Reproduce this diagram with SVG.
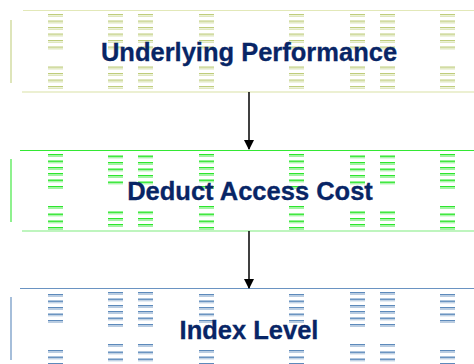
<svg xmlns="http://www.w3.org/2000/svg" xmlns:xlink="http://www.w3.org/1999/xlink" width="474" height="364" viewBox="0 0 474 364">
<style>
.t{font-family:"Liberation Sans",Arial,sans-serif;font-weight:bold;font-size:25.5px;fill:#082566;stroke:#082566;stroke-width:0.3;text-anchor:middle}
.y1{fill:#bfcd7c}.y2{fill:#dfe7bd}
.g1{fill:#2de62d}.g2{fill:#8cef8c}
.b1{fill:#5d8abb}.b2{fill:#a8c0da}
</style>
<defs>
<g id="rY"><rect x="0" y="0" width="15" height="1.2" class="y1"/><rect x="0" y="1.7" width="15" height="1.3" class="y2"/></g>
<g id="rG"><rect x="0" y="0" width="15" height="1.4" class="g1"/><rect x="0" y="1.8" width="15" height="1" class="g2"/></g>
<g id="rB"><rect x="0" y="0" width="15" height="1.4" class="b1"/><rect x="0" y="1.8" width="15" height="1" class="b2"/></g>
<g id="c1">
<use xlink:href="#rY" y="14"/><use xlink:href="#rY" y="20.5"/><use xlink:href="#rY" y="27"/><use xlink:href="#rY" y="33.5"/><use xlink:href="#rY" y="40"/><use xlink:href="#rY" y="46.5"/>
<use xlink:href="#rY" y="66.5"/><use xlink:href="#rY" y="73"/><use xlink:href="#rY" y="79.5"/><use xlink:href="#rY" y="86"/>
</g>
<g id="c2a">
<use xlink:href="#rG" y="154"/><use xlink:href="#rG" y="160.5"/><use xlink:href="#rG" y="167"/><use xlink:href="#rG" y="173"/><use xlink:href="#rG" y="179.5"/><use xlink:href="#rG" y="186"/>
<use xlink:href="#rG" y="206"/><use xlink:href="#rG" y="213.5"/><use xlink:href="#rG" y="220.5"/><use xlink:href="#rG" y="227"/>
</g>
<g id="c2b">
<use xlink:href="#rG" y="155.5"/><use xlink:href="#rG" y="162"/><use xlink:href="#rG" y="168.5"/><use xlink:href="#rG" y="175"/><use xlink:href="#rG" y="181.5"/>
<use xlink:href="#rG" y="211.5"/><use xlink:href="#rG" y="218"/><use xlink:href="#rG" y="224"/>
</g>
<g id="c3a">
<use xlink:href="#rB" y="294"/><use xlink:href="#rB" y="300.5"/><use xlink:href="#rB" y="307"/><use xlink:href="#rB" y="313.5"/><use xlink:href="#rB" y="320"/>
<use xlink:href="#rB" y="350"/><use xlink:href="#rB" y="356.5"/><use xlink:href="#rB" y="363"/>
</g>
<g id="c3b">
<use xlink:href="#rB" y="292"/><use xlink:href="#rB" y="298.5"/><use xlink:href="#rB" y="305"/><use xlink:href="#rB" y="311"/><use xlink:href="#rB" y="317.5"/><use xlink:href="#rB" y="324"/>
<use xlink:href="#rB" y="344"/><use xlink:href="#rB" y="351.5"/><use xlink:href="#rB" y="358.5"/>
</g>
<marker id="ah" markerWidth="11" markerHeight="11" refX="9" refY="5" orient="auto" markerUnits="userSpaceOnUse">
<path d="M0,0 L10,5 L0,10 Z" fill="#000"/>
</marker>
</defs>
<rect width="474" height="364" fill="#fff"/>

<g id="underlying-performance">
<line x1="23" y1="10.5" x2="474" y2="10.5" stroke="#e2e8b8" stroke-width="1"/>
<line x1="22" y1="92" x2="474" y2="92" stroke="#d9e1a6" stroke-width="1.2"/>
<line x1="11" y1="20" x2="11" y2="83" stroke="#c8d48c" stroke-width="1.2"/>
<use xlink:href="#c1" x="48"/><use xlink:href="#c1" x="108"/><use xlink:href="#c1" x="138"/><use xlink:href="#c1" x="199"/>
<use xlink:href="#c1" x="289"/><use xlink:href="#c1" x="350"/><use xlink:href="#c1" x="380"/><use xlink:href="#c1" x="440"/>
<text class="t" x="249" y="61">Underlying Performance</text>
</g>

<g id="deduct-access-cost">
<line x1="20" y1="150.5" x2="474" y2="150.5" stroke="#33e833" stroke-width="1.2"/>
<line x1="22" y1="231" x2="474" y2="231" stroke="#7fec7f" stroke-width="1.2"/>
<line x1="11" y1="159" x2="11" y2="222" stroke="#44e844" stroke-width="1.2"/>
<use xlink:href="#c2a" x="48"/><use xlink:href="#c2b" x="108"/><use xlink:href="#c2b" x="138"/><use xlink:href="#c2a" x="199"/>
<use xlink:href="#c2a" x="289"/><use xlink:href="#c2b" x="350"/><use xlink:href="#c2b" x="380"/><use xlink:href="#c2a" x="440"/>
<text class="t" x="250" y="200">Deduct Access Cost</text>
</g>

<g id="index-level">
<line x1="20" y1="288.5" x2="474" y2="288.5" stroke="#6a93c2" stroke-width="1.2"/>
<line x1="11" y1="297" x2="11" y2="360" stroke="#6a93c2" stroke-width="1.2"/>
<use xlink:href="#c3a" x="48"/><use xlink:href="#c3b" x="108"/><use xlink:href="#c3b" x="138"/><use xlink:href="#c3a" x="199"/>
<use xlink:href="#c3a" x="289"/><use xlink:href="#c3b" x="350"/><use xlink:href="#c3b" x="380"/><use xlink:href="#c3a" x="440"/>
<text class="t" x="249" y="339">Index Level</text>
</g>

<g id="connectors">
<line x1="249" y1="92" x2="249" y2="149" stroke="#000" stroke-width="1.5" marker-end="url(#ah)"/>
<line x1="249" y1="231" x2="249" y2="288" stroke="#000" stroke-width="1.5" marker-end="url(#ah)"/>
</g>
</svg>
